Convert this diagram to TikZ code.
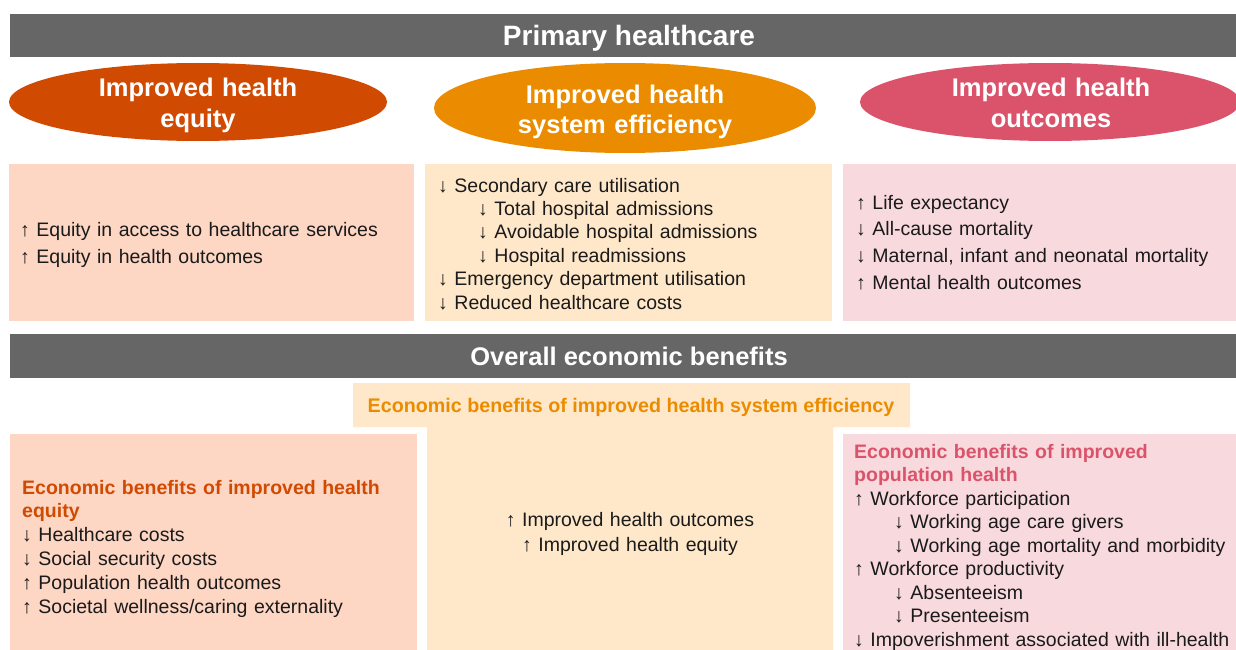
\documentclass[tikz,border=0pt]{standalone}
\usepackage{fontspec}
\setmainfont{Liberation Sans}
\usetikzlibrary{shapes.geometric}
\definecolor{barGray}{HTML}{666666}
\definecolor{barEdge}{HTML}{BDBDBD}
\definecolor{cEquity}{HTML}{D04A02}
\definecolor{cEff}{HTML}{EB8C00}
\definecolor{cOut}{HTML}{DB536A}
\definecolor{fillEquity}{HTML}{FDD6C4}
\definecolor{fillEff}{HTML}{FFE8CA}
\definecolor{fillOut}{HTML}{F8DADE}
\definecolor{txt}{HTML}{1A1A1A}
\newcommand\hdEq[1]{{\color{cEquity}\bfseries #1}}
\newcommand\hdOut[1]{{\color{cOut}\bfseries #1}}
\newcommand\ind{\hspace*{40pt}}
\begin{document}
\begin{tikzpicture}[x=1pt,y=-1pt,
  bar/.style={fill=barGray, draw=barEdge, line width=1pt},
  hdr/.style={text=white, font=\fontsize{28}{32}\selectfont\bfseries, anchor=base, inner sep=0},
  oval/.style={ellipse, inner sep=0, draw=none},
  ovaltext/.style={text=white, font=\fontsize{25.5}{31}\selectfont\bfseries, text width=330pt, align=center, anchor=base, inner sep=0},
  panel/.style={anchor=north west, inner sep=0, draw=none},
  body/.style={text=txt, anchor=base west, inner sep=0, align=left, text width=400pt},
]
\useasboundingbox (0,0) rectangle (1236,650);
\fill[white] (0,0) rectangle (1236,650);

% top bar
\node[bar, panel, minimum width=1240pt, minimum height=43pt] (bar1) at (9,14) {};
\node[hdr] (h1) at (629,46) {Primary healthcare};

% ellipses
\node[oval, fill=cEquity, minimum width=378pt, minimum height=78pt] (e1) at (198,102) {};
\node[oval, fill=cEff, minimum width=382pt, minimum height=90pt] (e2) at (625,108) {};
\node[oval, fill=cOut, minimum width=380pt, minimum height=78pt] (e3) at (1050,102) {};
\node[ovaltext] (e1t) at (198,97) {Improved health\\equity};
\node[ovaltext] (e2t) at (625,103) {Improved health\\system efficiency};
\node[ovaltext] (e3t) at (1051,97) {Improved health\\outcomes};

% first row panels
\node[panel, fill=fillEquity, minimum width=405pt, minimum height=157pt] (pA) at (9,164) {};
\node[panel, fill=fillEff, minimum width=407pt, minimum height=157pt] (pB) at (425,164) {};
\node[panel, fill=fillOut, minimum width=400pt, minimum height=157pt] (pC) at (843,164) {};

\node[body, font=\fontsize{19.5}{27}\selectfont] (tA) at (20,236)
  {↑ Equity in access to healthcare services\\↑ Equity in health outcomes};
\node[body, font=\fontsize{19.5}{23.4}\selectfont] (tB) at (438,192)
  {↓ Secondary care utilisation\\
   \ind↓ Total hospital admissions\\
   \ind↓ Avoidable hospital admissions\\
   \ind↓ Hospital readmissions\\
   ↓ Emergency department utilisation\\
   ↓ Reduced healthcare costs};
\node[body, font=\fontsize{19.5}{26.7}\selectfont] (tC) at (856,209)
  {↑ Life expectancy\\
   ↓ All-cause mortality\\
   ↓ Maternal, infant and neonatal mortality\\
   ↑ Mental health outcomes};

% second bar
\node[bar, panel, minimum width=1240pt, minimum height=44pt] (bar2) at (9,333) {};
\node[hdr, font=\fontsize{25.5}{30}\selectfont\bfseries] (h2) at (629,365) {Overall economic benefits};

% middle T-shaped panel
\fill[fillEff] (353,383) -- (910,383) -- (910,427) -- (833,427) -- (833,660)
  -- (427,660) -- (427,427) -- (353,427) -- cycle;
\node[text=cEff, font=\fontsize{19.7}{23.4}\selectfont\bfseries, anchor=base, inner sep=0] (tT) at (631,412)
  {Economic benefits of improved health system efficiency};
\node[body, anchor=base, align=center, font=\fontsize{19.5}{25}\selectfont] (tE) at (630,526)
  {↑ Improved health outcomes\\↑ Improved health equity};

% lower side panels
\node[panel, fill=fillEquity, minimum width=407pt, minimum height=226pt] (pD) at (10,434) {};
\node[panel, fill=fillOut, minimum width=400pt, minimum height=226pt] (pF) at (843,434) {};

\node[body, font=\fontsize{19.5}{23.8}\selectfont] (tD) at (22,494)
  {\hdEq{Economic benefits of improved health}\\
   \hdEq{equity}\\
   ↓ Healthcare costs\\
   ↓ Social security costs\\
   ↑ Population health outcomes\\
   ↑ Societal wellness/caring externality};
\node[body, font=\fontsize{19.5}{23.5}\selectfont] (tF) at (854,458)
  {\hdOut{Economic benefits of improved}\\
   \hdOut{population health}\\
   ↑ Workforce participation\\
   \ind↓ Working age care givers\\
   \ind↓ Working age mortality and morbidity\\
   ↑ Workforce productivity\\
   \ind↓ Absenteeism\\
   \ind↓ Presenteeism\\
   ↓ Impoverishment associated with ill-health};
\end{tikzpicture}
\end{document}
